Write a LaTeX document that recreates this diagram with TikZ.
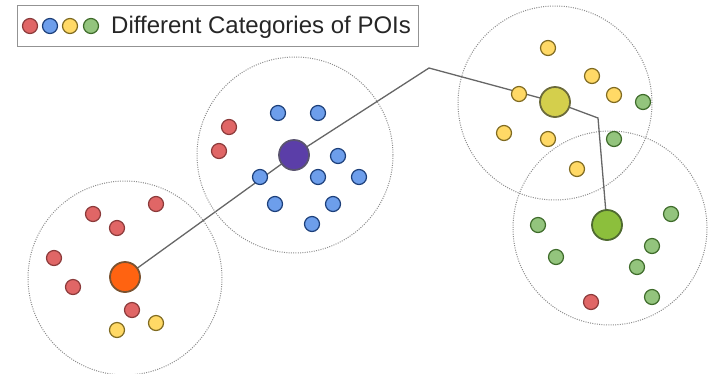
\documentclass[tikz,border=0pt]{standalone}
\usepackage{fontspec}
\setmainfont{Liberation Sans}
\usetikzlibrary{backgrounds}
\definecolor{redf}{HTML}{E06666}\definecolor{redd}{HTML}{8B3A3A}
\definecolor{bluef}{HTML}{6D9EEB}\definecolor{blued}{HTML}{1C3F7A}
\definecolor{yelf}{HTML}{FFD966}\definecolor{yeld}{HTML}{7F6A20}
\definecolor{grnf}{HTML}{93C47D}\definecolor{grnd}{HTML}{3E6B2A}
\definecolor{orgf}{HTML}{FF6311}\definecolor{orgd}{HTML}{7A5230}
\definecolor{purf}{HTML}{5B3EA8}\definecolor{purd}{HTML}{5A5470}
\definecolor{ygf}{HTML}{D4CF4C}\definecolor{ygd}{HTML}{6B6A3A}
\definecolor{gbf}{HTML}{8CBF3C}\definecolor{gbd}{HTML}{4F6A30}
\definecolor{linec}{HTML}{666666}
\tikzset{
  poi/.style={circle,inner sep=0pt,minimum size=15pt,line width=1.2pt},
  rd/.style={poi,fill=redf,draw=redd},
  bl/.style={poi,fill=bluef,draw=blued},
  yl/.style={poi,fill=yelf,draw=yeld},
  gr/.style={poi,fill=grnf,draw=grnd},
  big/.style={circle,inner sep=0pt,minimum size=30pt,line width=1.8pt},
  region/.style={circle,inner sep=0pt,draw=gray!90,dash pattern=on 1pt off 1.3pt,line width=1pt},
  route/.style={draw=linec,line width=1.3pt},
}
\begin{document}
\begin{tikzpicture}[x=1pt,y=-1pt]
\useasboundingbox (0,0) rectangle (711,373);
% legend
\node[draw=gray!85,line width=1pt,minimum width=401pt,minimum height=41pt,inner sep=0pt] (legend) at (217.5,25.5) {};
\node[rd,minimum size=15pt] (l1) at (30,26) {};
\node[bl,minimum size=15pt] (l2) at (50,26) {};
\node[yl,minimum size=15pt] (l3) at (70,26) {};
\node[gr,minimum size=15pt] (l4) at (91,26) {};
\node[anchor=west,inner sep=0pt,font=\fontsize{24pt}{26pt}\selectfont,text=black!85] (ltext) at (111,27) {Different Categories of POIs};
% regions
\node[region,minimum size=194pt] (c1) at (125,278) {};
\node[region,minimum size=196pt] (c2) at (295,155) {};
\node[region,minimum size=194pt] (c3) at (555,103) {};
\node[region,minimum size=194pt] (c4) at (610,228) {};
% cluster 1
\node[rd] (a1) at (156,204) {};
\node[rd] (a2) at (93,214) {};
\node[rd] (a3) at (117,228) {};
\node[rd] (a4) at (54,258) {};
\node[rd] (a5) at (73,287) {};
\node[rd] (a6) at (132,310) {};
\node[yl] (a7) at (117,330) {};
\node[yl] (a8) at (156,323) {};
% cluster 2
\node[bl] (b1) at (278,113) {};
\node[bl] (b2) at (318,113) {};
\node[bl] (b3) at (338,156) {};
\node[bl] (b4) at (318,177) {};
\node[bl] (b5) at (359,177) {};
\node[bl] (b6) at (260,177) {};
\node[bl] (b7) at (275,204) {};
\node[bl] (b8) at (333,204) {};
\node[bl] (b9) at (312,224) {};
\node[rd] (b10) at (229,127) {};
\node[rd] (b11) at (219,151) {};
% cluster 3
\node[yl] (d1) at (548,48) {};
\node[yl] (d2) at (592,76) {};
\node[yl] (d3) at (519,94) {};
\node[yl] (d4) at (614,95) {};
\node[yl] (d5) at (504,133) {};
\node[yl] (d6) at (548,139) {};
\node[yl] (d7) at (577,169) {};
\node[gr] (d8) at (643,102) {};
\node[gr] (d9) at (614,139) {};
% cluster 4
\node[gr] (e1) at (671,214) {};
\node[gr] (e2) at (538,225) {};
\node[gr] (e3) at (652,246) {};
\node[gr] (e4) at (556,257) {};
\node[gr] (e5) at (637,267) {};
\node[gr] (e6) at (652,297) {};
\node[rd] (e7) at (591,302) {};
% centres
\node[big,fill=orgf,draw=orgd] (org) at (125,277) {};
\node[big,fill=purf,draw=purd] (pur) at (294,155) {};
\node[big,fill=ygf,draw=ygd] (yg) at (555,102) {};
\node[big,fill=gbf,draw=gbd] (gb) at (607,225) {};
\coordinate (k1) at (429,68);
\coordinate (k2) at (598,118);
\begin{scope}[on background layer]
\draw[route] (org.center) -- (pur.center) -- (k1) -- (yg.center) -- (k2) -- (gb.center);
\end{scope}
\end{tikzpicture}
\end{document}
